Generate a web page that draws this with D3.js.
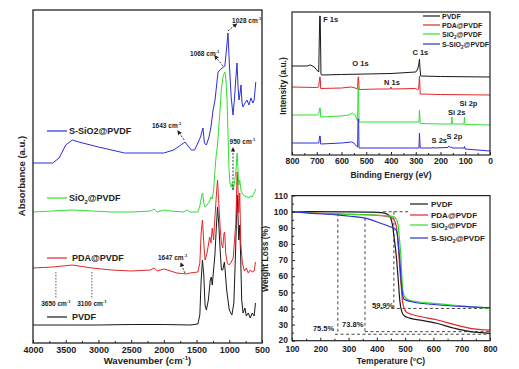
<!DOCTYPE html>
<html><head><meta charset="utf-8">
<script src="https://cdn.jsdelivr.net/npm/d3@7"></script>
<style>
body{margin:0;background:#fff;}
svg text{font-family:"Liberation Sans",Arial,sans-serif;font-weight:bold;fill:#222;}
</style></head><body>
<svg id="c" width="519" height="369"></svg>
<script>
// ---------------- FTIR (wavenumber cm-1, absorbance a.u. incl. offset) ----------------
const ftirTicks = [4000,3500,3000,2500,2000,1500,1000,500];
const ftirPVDF = [[4000,18],[3500,18],[3000,18],[2500,18.5],[2000,18.5],[1600,18],[1480,19],[1450,28],[1430,63],[1410,83],[1390,68],[1370,38],[1350,33],[1320,43],[1290,63],[1275,66],[1260,58],[1240,73],[1220,88],[1200,113],[1180,136],[1160,118],[1140,93],[1120,73],[1100,73],[1075,81],[1060,70],[1040,53],[1000,33],[960,28],[930,40],[900,100],[880,148],[870,133],[855,103],[840,118],[825,83],[810,43],[790,30],[760,35],[740,27],[710,30],[680,25],[650,30],[620,27],[600,40]];
const ftirPDA = [[4000,75],[3700,76],[3400,78],[3100,75],[2800,73],[2500,72],[2200,73],[2150,75],[2100,72],[2000,74],[1800,70],[1650,69],[1600,70],[1480,71],[1450,80],[1430,110],[1410,123],[1390,100],[1370,83],[1340,90],[1300,106],[1280,100],[1260,115],[1240,103],[1220,125],[1200,145],[1180,163],[1160,140],[1140,115],[1120,100],[1100,95],[1080,110],[1070,111],[1055,90],[1030,80],[1000,78],[970,81],[940,85],[900,120],[880,171],[870,160],[855,130],[840,150],[825,100],[800,80],[770,72],[740,75],[710,70],[680,73],[650,71],[620,72],[600,81]];
const ftirSiO2 = [[4000,131],[3700,132],[3400,133],[3100,132],[2800,131],[2500,131],[2200,132],[2150,134],[2100,131],[2000,133],[1900,132],[1700,131],[1650,133],[1600,131],[1480,131],[1450,137],[1420,148],[1405,150],[1390,140],[1370,136],[1340,138],[1300,142],[1280,146],[1260,144],[1240,152],[1220,172],[1200,188],[1180,198],[1150,225],[1120,255],[1090,268],[1066,271],[1050,262],[1034,243],[1020,210],[1005,175],[990,160],[970,156],[955,160],[943,153],[920,160],[900,172],[880,190],[870,178],[855,158],[840,163],[820,152],[806,150],[770,147],[729,146],[700,145],[680,147],[650,146],[620,150],[595,154]];
const ftirSSiO2 = [[4000,180],[3700,180],[3600,185],[3500,198],[3400,203],[3300,201],[3000,196],[2600,190],[2200,190],[2000,190],[1850,193],[1740,198],[1677,201],[1630,197],[1580,193],[1530,193],[1480,200],[1440,206],[1402,215],[1380,200],[1350,198],[1310,206],[1280,216],[1250,232],[1218,243],[1172,271],[1111,275],[1068,277],[1045,292],[1020,310],[1000,280],[970,245],[943,228],[920,245],[900,265],[882,280],[865,255],[852,243],[835,250],[821,258],[805,240],[790,236],[760,240],[729,243],[700,238],[668,245],[640,240],[620,243],[595,261]];

// ---------------- XPS (binding energy eV, intensity a.u. incl. offset) ----------------
const xpsTicks = [800,700,600,500,400,300,200,100,0];
const xpsPVDF = [[800,89],[740,89],[725,90],[710,88],[700,85],[692,83],[688,139],[686,139],[683,81],[680,80],[600,80.5],[400,81.5],[300,83],[292,86],[288,90],[285,96],[283,87],[280,79],[200,78.5],[0,78]];
const xpsPDA = [[800,68],[700,67.5],[692,68],[688,78],[686,78],[684,66.5],[600,67],[560,68],[545,67],[535,66],[533,78],[531,78],[529,65.5],[450,66],[402,66],[400,68],[398,66],[300,66.5],[292,65],[288,67],[285,79],[282,61],[200,60.5],[0,60]];
const xpsSiO2 = [[800,40],[700,40],[692,41],[688,47],[686,47],[684,38],[650,38.5],[600,39],[570,40],[555,42],[545,40],[535,34],[533,67],[531,67],[529,33],[400,33],[300,33],[287,33],[285,45],[282,31.5],[200,31],[156,31],[154,38],[152,31],[105,31],[103,38],[101,30.5],[0,30]];
const xpsSSiO2 = [[800,12],[700,12],[692,12],[688,19],[686,19],[684,11],[600,12],[560,13],[550,12],[540,9],[535,8],[533,36],[531,36],[529,7],[400,7],[300,7],[287,7],[285,22],[282,7],[232,7],[230,8],[228,7],[170,7.5],[166,9],[163,8],[160,7.5],[155,8],[153,7],[105,7],[103,8.5],[101,6],[0,4]];
const xpsPeaks = [["F 1s",686],["O 1s",532],["N 1s",400],["C 1s",285],["Si 2p",103],["Si 2s",154],["S 2s",228],["S 2p",164]];

// ---------------- TGA (temperature °C, weight %) ----------------
const tgaXTicks = [100,200,300,400,500,600,700,800];
const tgaYTicks = [20,30,40,50,60,70,80,90,100,110];
const tgaPVDF = [[100,100],[170,100],[275,99.9],[380,99.7],[422,99.3],[437,98.5],[448,96.5],[455,92],[461,84],[469,72],[476,57],[481,45],[488,38],[497,35.5],[516,34],[553,32.8],[611,30.8],[674,27.7],[731,25.6],[768,25],[800,24.6]];
const tgaPDA = [[100,100],[170,99.3],[275,98.6],[380,98],[432,97.2],[453,96.3],[464,94],[471,88],[476,78],[481,65],[487,52],[491,44],[497,40],[506,37.5],[553,35],[611,33],[674,30],[731,27.7],[800,26.6]];
const tgaSiO2 = [[100,100],[170,99.2],[259,98.6],[380,98],[432,97.5],[458,97],[469,95.5],[475,92],[480,83],[485,72],[489,58],[493,50],[499,47],[516,45],[548,44],[611,43],[674,42],[731,41],[800,40.2]];
const tgaSSiO2 = [[100,100],[170,99],[259,98],[306,97.2],[359,96],[411,93],[447,90.7],[464,89.5],[471,87.5],[476,80],[481,70],[486,57],[490,50],[495,46],[506,45],[527,44],[611,42.3],[731,41],[800,40.5]];
const tgaLabels = ["75.5%","73.8%","59.9%"];

const names = ["PVDF","PDA@PVDF","SiO_{2}@PVDF","S-SiO_{2}@PVDF"];
const colors = ["#1a1a1a","#e0262b","#2ee02e","#2e2ed6"];

// ---------------- helpers ----------------
const svg = d3.select("#c");
function rich(g,x,y,s,size,anchor){
  const t=g.append("text").attr("x",x).attr("y",y).attr("font-size",size).attr("text-anchor",anchor||"start");
  const re=/([_^])\{([^}]*)\}/g; let last=0,m,shift=0;
  while((m=re.exec(s))){
    if(m.index>last){t.append("tspan").attr("dy",-shift).text(s.slice(last,m.index));shift=0;}
    const d=m[1]==="_"?size*0.3:-size*0.4;
    t.append("tspan").attr("dy",d-shift).attr("font-size",size*0.65).text(m[2]);shift=d;
    last=re.lastIndex;
  }
  if(last<s.length)t.append("tspan").attr("dy",-shift).text(s.slice(last));
  return t;
}
function styleAxis(g,size){
  g.select(".domain").remove();
  g.selectAll("text").attr("font-size",size).attr("font-family",null).attr("fill","#222");
  g.selectAll("line").attr("stroke","#222").attr("stroke-width",1);
}
const defs=svg.append("defs");
defs.append("marker").attr("id","ah").attr("viewBox","0 0 10 10").attr("refX",8).attr("refY",5)
 .attr("markerWidth",5).attr("markerHeight",5).attr("orient","auto")
 .append("path").attr("d","M0,0L10,5L0,10z").attr("fill","#222");

// ================= FTIR panel =================
const fx=d3.scaleLinear().domain([4000,500]).range([33,262]);
const fy=d3.scaleLinear().domain([0,333]).range([343,10]);
const gF=svg.append("g");
const fLine=d3.line().x(d=>fx(d[0])).y(d=>fy(d[1]));
[ftirPVDF,ftirPDA,ftirSiO2,ftirSSiO2].forEach((s,i)=>{
  gF.append("path").attr("d",fLine(s)).attr("fill","none").attr("stroke",colors[i]).attr("stroke-width",1).attr("stroke-linejoin","round");
});
gF.append("rect").attr("x",33).attr("y",10).attr("width",229).attr("height",333).attr("fill","none").attr("stroke","#222").attr("stroke-width",1.3);
const fax=gF.append("g").attr("transform","translate(0,343)")
 .call(d3.axisBottom(fx).tickValues(ftirTicks).tickSize(-3).tickPadding(4).tickFormat(d3.format("d")));
styleAxis(fax,9);
const fmin=gF.append("g").attr("transform","translate(0,343)")
 .call(d3.axisBottom(fx).tickValues(ftirTicks.slice(0,-1).map(v=>v-250)).tickSize(-2).tickFormat(""));
styleAxis(fmin,9);
rich(gF,(33+262)/2,364,"Wavenumber (cm^{-1})",9.5,"middle");
gF.append("text").attr("transform","rotate(-90)").attr("x",-176).attr("y",25).attr("text-anchor","middle").attr("font-size",9.5).text("Absorbance (a.u.)");
// legends
const fLegY=[317,258,198,131];
const fLegNames=["PVDF","PDA@PVDF","SiO_{2}@PVDF","S-SiO2@PVDF"];
fLegNames.forEach((n,i)=>{
  gF.append("line").attr("x1",47).attr("x2",67).attr("y1",fLegY[i]).attr("y2",fLegY[i]).attr("stroke",colors[i]).attr("stroke-width",1.2);
  rich(gF,i<2?72:69,fLegY[i]+3.3,n,9);
});
// annotations [label, textWave, textVal, arrowFrom(w,v), arrowTo(w,v)]
const fAnn=[
 ["1028 cm^{-1}",958,320,[1020,312],[890,319]],
 ["1068 cm^{-1}",1600,287,[1095,277],[1220,287]],
 ["1643 cm^{-1}",2181,215,[1690,203],[1785,212]],
 ["950 cm^{-1}",995,199,[943,153],[943,195]],
 ["1647 cm^{-1}",2090,83,[1680,70],[1740,80]]
];
fAnn.forEach(a=>{
  rich(gF,fx(a[1]),fy(a[2]),a[0],6.5);
  gF.append("line").attr("x1",fx(a[3][0])).attr("y1",fy(a[3][1])).attr("x2",fx(a[4][0])).attr("y2",fy(a[4][1]))
   .attr("stroke","#222").attr("stroke-width",0.9).attr("stroke-dasharray","2,1.5").attr("marker-end","url(#ah)");
});
[[3650,"3650 cm^{-1}"],[3100,"3100 cm^{-1}"]].forEach(a=>{
  gF.append("line").attr("x1",fx(a[0])).attr("x2",fx(a[0])).attr("y1",fy(71)).attr("y2",fy(45))
   .attr("stroke","#333").attr("stroke-width",0.8).attr("stroke-dasharray","1.5,1.5");
  rich(gF,fx(a[0]),fy(37),a[1],6.5,"middle");
});

// ================= XPS panel =================
const xx=d3.scaleLinear().domain([800,0]).range([292,490]);
const xy=d3.scaleLinear().domain([0,143]).range([155,12]);
const gX=svg.append("g");
const xLine=d3.line().x(d=>xx(d[0])).y(d=>xy(d[1]));
[xpsPVDF,xpsPDA,xpsSiO2,xpsSSiO2].forEach((s,i)=>{
  gX.append("path").attr("d",xLine(s)).attr("fill","none").attr("stroke",colors[i]).attr("stroke-width",1);
});
gX.append("rect").attr("x",292).attr("y",12).attr("width",198).attr("height",143).attr("fill","none").attr("stroke","#222").attr("stroke-width",1.2);
const xax=gX.append("g").attr("transform","translate(0,155)")
 .call(d3.axisBottom(xx).tickValues(xpsTicks).tickSize(-3).tickPadding(3).tickFormat(d3.format("d")));
styleAxis(xax,8.5);
const xmin=gX.append("g").attr("transform","translate(0,155)")
 .call(d3.axisBottom(xx).tickValues(xpsTicks.slice(0,-1).map(v=>v-50)).tickSize(-2).tickFormat(""));
styleAxis(xmin,8);
gX.append("text").attr("x",391).attr("y",178).attr("text-anchor","middle").attr("font-size",8.5).text("Binding Energy (eV)");
gX.append("text").attr("transform","rotate(-90)").attr("x",-86).attr("y",286).attr("text-anchor","middle").attr("font-size",8.5).text("Intensity (a.u.)");
const xLegY=[16,25,34,44];
names.forEach((n,i)=>{
  gX.append("line").attr("x1",423).attr("x2",440).attr("y1",xLegY[i]).attr("y2",xLegY[i]).attr("stroke",colors[i]).attr("stroke-width",1.2);
  rich(gX,442,xLegY[i]+2.6,n,7);
});
const xPeakPos=[[3,133],[-6,89],[-7,70],[-7,100],[-5,49],[-4,40],[-2,12],[-3,16]];
xpsPeaks.forEach((p,i)=>{
  gX.append("text").attr("x",xx(p[1])+xPeakPos[i][0]).attr("y",xy(xPeakPos[i][1])).attr("font-size",7.5).text(p[0]);
});

// ================= TGA panel =================
const tx=d3.scaleLinear().domain([100,800]).range([292,490]);
const ty=d3.scaleLinear().domain([20,110]).range([340.7,195.6]);
const gT=svg.append("g");
const guide=(x1,y1,x2,y2)=>gT.append("line").attr("x1",tx(x1)).attr("y1",ty(y1)).attr("x2",tx(x2)).attr("y2",ty(y2))
  .attr("stroke","#333").attr("stroke-width",0.9).attr("stroke-dasharray","3,2.5");
guide(422,100,510,100);
guide(460,100,460,40);
guide(393,40,800,40);
guide(262,99,262,24);
guide(358,96,358,25.6);
guide(358,25.6,800,25.6);
guide(252,24,800,24);
const tLine=d3.line().x(d=>tx(d[0])).y(d=>ty(d[1])).curve(d3.curveMonotoneX);
[tgaPVDF,tgaPDA,tgaSiO2,tgaSSiO2].forEach((s,i)=>{
  gT.append("path").attr("d",tLine(s)).attr("fill","none").attr("stroke",colors[i]).attr("stroke-width",1.2);
});
gT.append("rect").attr("x",292).attr("y",195.6).attr("width",198).attr("height",145.1).attr("fill","none").attr("stroke","#222").attr("stroke-width",1.2);
const tax=gT.append("g").attr("transform","translate(0,340.7)")
 .call(d3.axisBottom(tx).tickValues(tgaXTicks).tickSize(-3).tickPadding(5).tickFormat(d3.format("d")));
styleAxis(tax,8.5);
const tmin=gT.append("g").attr("transform","translate(0,340.7)")
 .call(d3.axisBottom(tx).tickValues(tgaXTicks.slice(0,-1).map(v=>v+50)).tickSize(-2).tickFormat(""));
styleAxis(tmin,8);
const tay=gT.append("g").attr("transform","translate(292,0)")
 .call(d3.axisLeft(ty).tickValues(tgaYTicks).tickSize(-3).tickPadding(4).tickFormat(d3.format("d")));
styleAxis(tay,8.5);
tay.selectAll(".tick text").filter(d=>d===20).attr("dy","0.2em");
const taymin=gT.append("g").attr("transform","translate(292,0)")
 .call(d3.axisLeft(ty).tickValues(tgaYTicks.slice(0,-1).map(v=>v+5)).tickSize(-2).tickFormat(""));
styleAxis(taymin,8);
gT.append("text").attr("x",391).attr("y",364).attr("text-anchor","middle").attr("font-size",8.5).text("Temperature (°C)");
gT.append("text").attr("transform","rotate(-90)").attr("x",-259).attr("y",268).attr("text-anchor","middle").attr("font-size",8.5).text("Weight Loss (%)");
const tLegY=[204,215,225,238];
names.forEach((n,i)=>{
  gT.append("line").attr("x1",410).attr("x2",428).attr("y1",tLegY[i]).attr("y2",tLegY[i]).attr("stroke",colors[i]).attr("stroke-width",1.2);
  rich(gT,431,tLegY[i]+3,n,8);
});
const tLabPos=[[174,26.2],[277,28.2],[383,40.5]];
tgaLabels.forEach((l,i)=>{
  gT.append("text").attr("x",tx(tLabPos[i][0])).attr("y",ty(tLabPos[i][1])).attr("font-size",7.5).text(l);
});
</script></body></html>
